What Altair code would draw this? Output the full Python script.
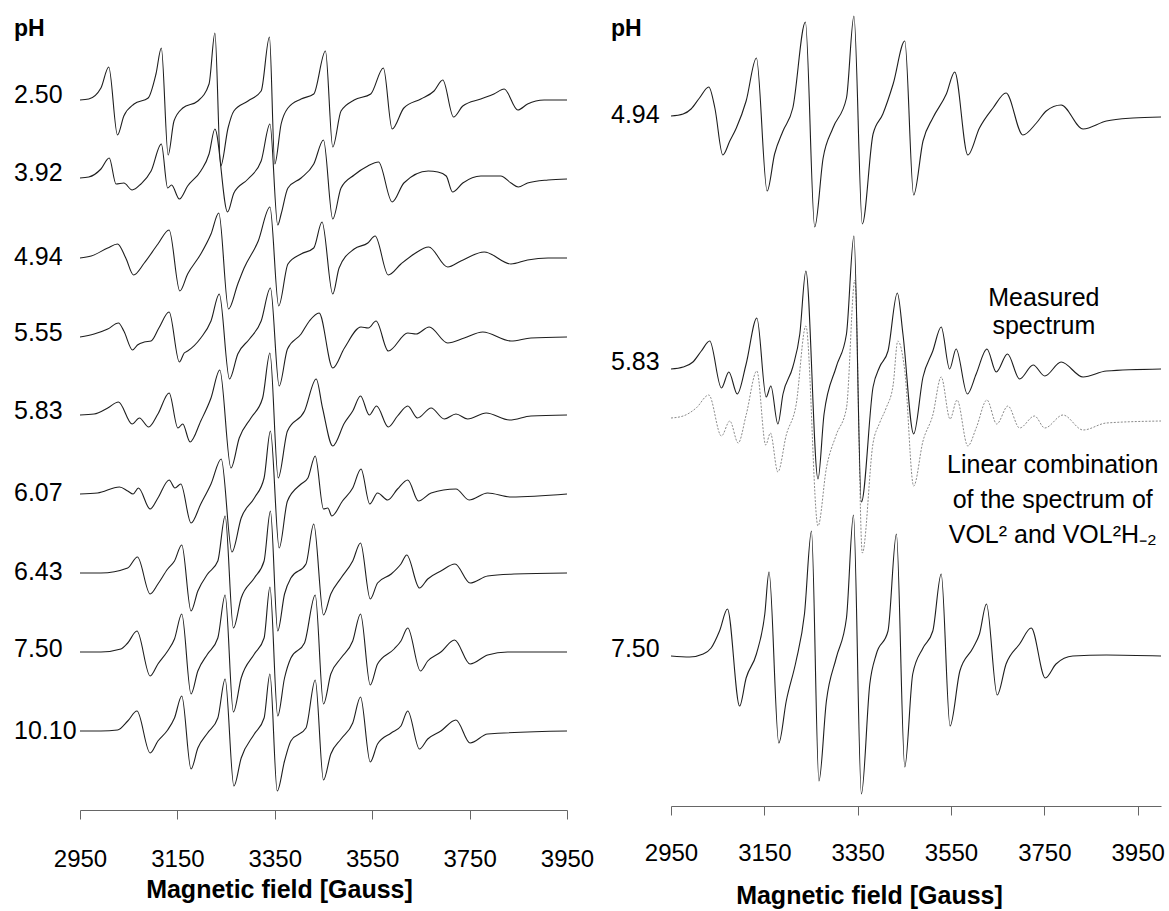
import altair as alt
import pandas as pd

FONT = "Liberation Sans"
FIELD_TICKS = [2950, 3150, 3350, 3550, 3750, 3950]

# ---------------- left panel: (field [Gauss], signal [a.u.]) ----------------
ph_2_50 = [(2950,0),(2968,1),(2993,12),(3009,33),(3027,-35),(3040,-16),(3061,-4),(3090,2),(3106,26),(3117,52),(3131,-55),(3143,-21),(3161,-8),(3192,-1),(3215,16),(3227,67),(3239,-66),(3254,-28),(3266,-11),(3295,-1),(3322,9),(3339,63),(3350,-64),(3363,-24),(3377,-8),(3404,1),(3430,6),(3454,49),(3469,-47),(3486,-11),(3513,0),(3547,6),(3573,32),(3591,-29),(3615,-8),(3650,1),(3677,9),(3695,20),(3717,-17),(3736,-6),(3773,1),(3800,6),(3821,11),(3849,-10),(3869,-4),(3903,0),(3950,0)]
ph_3_92 = [(2950,0),(2968,1),(2993,9),(3010,20),(3024,-6),(3040,-5),(3057,-12),(3075,-6),(3096,7),(3117,34),(3130,-10),(3138,-7),(3154,-21),(3171,-8),(3198,7),(3215,24),(3227,49),(3253,-34),(3266,-15),(3295,-1),(3322,17),(3340,54),(3356,-47),(3363,-36),(3377,-10),(3404,0),(3430,14),(3450,38),(3469,-41),(3486,-10),(3513,3),(3541,12),(3563,16),(3591,-24),(3615,-5),(3665,7),(3685,6),(3702,2),(3715,-14),(3736,-5),(3773,2),(3814,2),(3835,-5),(3850,-9),(3869,-5),(3911,-2),(3950,-1)]
ph_4_94 = [(2950,0),(2973,2),(3007,10),(3027,14),(3044,0),(3060,-17),(3082,-5),(3110,14),(3133,28),(3155,-33),(3171,-16),(3198,4),(3219,24),(3235,45),(3255,-51),(3274,-26),(3287,-10),(3316,17),(3340,51),(3358,-48),(3377,-6),(3404,4),(3430,10),(3447,36),(3469,-36),(3482,-10),(3513,9),(3541,15),(3556,22),(3583,-17),(3609,-6),(3636,4),(3666,11),(3705,-9),(3732,-3),(3780,6),(3835,-6),(3869,-2),(3911,0),(3950,0)]
ph_5_55 = [(2950,0),(2979,3),(3007,8),(3029,14),(3040,6),(3058,-13),(3068,-8),(3082,-5),(3096,-4),(3112,9),(3133,25),(3154,-25),(3164,-16),(3171,-14),(3198,-1),(3219,16),(3236,43),(3257,-42),(3274,-17),(3298,-2),(3322,16),(3341,49),(3359,-49),(3376,-12),(3404,3),(3421,16),(3441,24),(3469,-31),(3493,-11),(3527,10),(3542,9),(3558,16),(3583,-14),(3623,4),(3640,3),(3667,10),(3705,-6),(3739,-1),(3777,5),(3835,-4),(3876,-1),(3950,0)]
ph_5_83 = [(2950,0),(2979,1),(3007,7),(3029,13),(3057,-9),(3072,-3),(3091,-12),(3110,1),(3133,22),(3151,-13),(3161,-9),(3176,-27),(3198,-6),(3219,17),(3237,45),(3260,-53),(3277,-23),(3301,-3),(3325,17),(3340,62),(3357,-63),(3376,-16),(3411,4),(3435,36),(3448,7),(3469,-31),(3493,-8),(3510,4),(3526,19),(3544,0),(3559,9),(3583,-12),(3602,-1),(3623,9),(3643,-3),(3671,7),(3698,-4),(3722,1),(3746,-4),(3784,2),(3832,-5),(3876,-1),(3950,0)]
ph_6_07 = [(2950,0),(2986,1),(3031,7),(3048,3),(3059,0),(3070,6),(3094,-15),(3110,-4),(3133,14),(3145,6),(3157,10),(3178,-29),(3198,-10),(3219,10),(3240,35),(3262,-58),(3281,-24),(3308,-4),(3328,16),(3341,63),(3359,-54),(3376,-7),(3404,10),(3418,16),(3433,38),(3450,-15),(3459,-14),(3467,-22),(3489,-7),(3510,6),(3527,25),(3545,-10),(3561,1),(3582,-6),(3602,5),(3623,14),(3645,-7),(3671,1),(3722,5),(3749,-6),(3787,1),(3835,-3),(3950,0)]
ph_6_43 = [(2950,0),(2993,0),(3048,5),(3068,16),(3094,-21),(3110,-11),(3130,4),(3144,12),(3159,28),(3178,-38),(3192,-18),(3212,-1),(3233,12),(3248,57),(3265,-55),(3281,-25),(3308,-5),(3328,12),(3341,62),(3356,-58),(3370,-21),(3383,-5),(3414,9),(3430,49),(3450,-42),(3465,-21),(3486,-5),(3510,12),(3526,30),(3546,-26),(3561,-10),(3589,-1),(3609,9),(3621,18),(3647,-15),(3664,-6),(3691,2),(3720,9),(3751,-10),(3787,-3),(3842,-1),(3950,0)]
ph_7_50 = [(2950,0),(2993,0),(3034,3),(3048,9),(3067,21),(3094,-24),(3110,-12),(3130,1),(3144,13),(3159,38),(3178,-42),(3192,-19),(3212,-2),(3233,14),(3248,57),(3265,-60),(3281,-26),(3308,-2),(3328,14),(3340,65),(3356,-64),(3370,-26),(3383,-6),(3411,9),(3433,57),(3450,-52),(3465,-22),(3486,-6),(3510,11),(3526,38),(3546,-33),(3561,-12),(3595,3),(3609,11),(3623,24),(3649,-19),(3664,-9),(3691,0),(3719,12),(3751,-12),(3787,-3),(3828,0),(3950,0)]
ph_10_10 = [(2950,0),(2993,0),(3027,1),(3048,10),(3067,20),(3094,-22),(3110,-10),(3130,1),(3144,13),(3159,35),(3178,-38),(3192,-17),(3212,-2),(3233,13),(3248,52),(3266,-55),(3281,-27),(3308,-3),(3328,13),(3340,57),(3355,-60),(3370,-30),(3383,-10),(3414,3),(3433,51),(3450,-49),(3465,-23),(3486,-8),(3510,8),(3526,34),(3546,-31),(3561,-13),(3589,-2),(3609,5),(3623,20),(3647,-18),(3664,-8),(3691,0),(3722,11),(3751,-12),(3787,-3),(3950,0)]

LEFT_NAMES = ["2.50", "3.92", "4.94", "5.55", "5.83", "6.07", "6.43", "7.50", "10.10"]
LEFT_SPECTRA = [ph_2_50, ph_3_92, ph_4_94, ph_5_55, ph_5_83, ph_6_07, ph_6_43, ph_7_50, ph_10_10]
LEFT_OFFSETS = [710, 632, 552, 473, 395, 316, 237, 158, 79]
LEFT_LABEL_LEVELS = [715, 637, 553, 477, 399, 317, 238, 161, 79]

# ---------------- right panel ----------------
r_4_94 = [(2950,0),(2976,2),(2993,7),(3011,18),(3031,29),(3044,8),(3061,-39),(3076,-25),(3090,-12),(3111,15),(3133,58),(3156,-75),(3172,-38),(3190,-15),(3211,8),(3238,94),(3258,-111),(3276,-42),(3297,-12),(3326,18),(3342,100),(3360,-108),(3383,-18),(3404,2),(3426,32),(3451,75),(3470,-79),(3490,-25),(3511,-2),(3540,22),(3558,44),(3586,-39),(3611,-12),(3640,8),(3668,23),(3704,-19),(3733,-7),(3754,5),(3786,11),(3833,-13),(3883,-5),(3940,-2),(4000,-1)]
r_5_83 = [(2950,0),(2976,2),(2997,7),(3015,18),(3033,28),(3058,-19),(3074,-3),(3092,-25),(3111,5),(3134,51),(3154,-28),(3164,-17),(3179,-55),(3190,-25),(3211,2),(3226,35),(3239,98),(3265,-110),(3278,-45),(3304,2),(3326,35),(3342,133),(3358,-133),(3383,-18),(3397,2),(3415,18),(3435,76),(3447,35),(3470,-65),(3490,-8),(3511,18),(3529,42),(3547,0),(3561,20),(3585,-25),(3604,-5),(3627,20),(3647,-3),(3671,15),(3697,-10),(3726,4),(3751,-7),(3786,7),(3833,-8),(3883,-2),(4000,0)]
r_combination = [(2950,0),(2976,2),(3004,10),(3031,23),(3058,-18),(3076,-3),(3094,-25),(3111,3),(3134,47),(3153,-27),(3163,-15),(3179,-54),(3197,-17),(3218,13),(3239,92),(3265,-108),(3283,-50),(3304,-17),(3326,10),(3344,138),(3360,-135),(3383,-25),(3397,-5),(3411,10),(3426,33),(3436,77),(3451,47),(3470,-68),(3490,-23),(3511,3),(3529,41),(3548,-1),(3563,18),(3586,-28),(3604,-10),(3627,18),(3648,-6),(3672,12),(3697,-10),(3729,2),(3751,-10),(3790,3),(3833,-12),(3883,-5),(4000,-3)]
r_7_50 = [(2950,0),(2990,-1),(3019,2),(3036,8),(3054,25),(3071,47),(3097,-50),(3111,-22),(3133,2),(3151,42),(3160,84),(3181,-87),(3197,-45),(3218,-5),(3236,42),(3251,125),(3267,-125),(3283,-45),(3304,-2),(3326,38),(3341,141),(3358,-138),(3376,-28),(3390,2),(3415,25),(3433,122),(3451,-111),(3468,-18),(3490,8),(3511,25),(3529,82),(3548,-70),(3569,-15),(3597,8),(3611,22),(3626,52),(3649,-39),(3668,-8),(3697,12),(3722,28),(3752,-22),(3775,-8),(3811,0),(3883,1),(4000,0)]

RIGHT_NAMES = ["4.94", "5.83", "7.50"]
RIGHT_SPECTRA = [r_4_94, r_5_83, r_7_50]
RIGHT_OFFSETS = [690, 437, 150]
RIGHT_LABEL_LEVELS = [691, 444, 157]
COMBINATION_OFFSET = 388

ANNOT_TEXT = ["Measured", "spectrum", "Linear combination", "of the spectrum of", "VOL\u00b2 and VOL\u00b2H\u208b\u2082"]
ANNOT_FIELD = [3749, 3749, 3768, 3768, 3768]
ANNOT_LEVEL = [500, 472, 333, 298, 263]


def spectra_frame(names, spectra, offsets):
    rows = []
    for name, pts, off in zip(names, spectra, offsets):
        for i, (f, a) in enumerate(pts):
            rows.append({"spectrum": name, "field": f, "level": off + a, "idx": i})
    return pd.DataFrame(rows)


left_df = spectra_frame(LEFT_NAMES, LEFT_SPECTRA, LEFT_OFFSETS)
left_labels = pd.DataFrame({"field": 2950, "level": LEFT_LABEL_LEVELS, "label": LEFT_NAMES})
right_df = spectra_frame(RIGHT_NAMES, RIGHT_SPECTRA, RIGHT_OFFSETS)
comb_df = spectra_frame(["combination"], [r_combination], [COMBINATION_OFFSET])
right_labels = pd.DataFrame({"field": 2950, "level": RIGHT_LABEL_LEVELS, "label": RIGHT_NAMES})
annot_df = pd.DataFrame({"field": ANNOT_FIELD, "level": ANNOT_LEVEL, "label": ANNOT_TEXT})


def x_enc(domain, label_pad, title_pad, title_x):
    return alt.X(
        "field:Q",
        scale=alt.Scale(domain=domain, nice=False, zero=False),
        axis=alt.Axis(
            values=FIELD_TICKS, format="d", title="Magnetic field [Gauss]", grid=False,
            tickSize=9, tickColor="#666666", domainColor="#666666", labelPadding=label_pad,
            titlePadding=title_pad, labelFontSize=24, labelFont=FONT, labelColor="#000000",
            titleFontSize=25, titleFont=FONT, titleFontWeight="bold", titleColor="#000000",
            labelFlush=False, titleX=title_x, titleAlign="center",
        ),
    )


def y_enc(top):
    return alt.Y("level:Q", scale=alt.Scale(domain=[0, top], nice=False, zero=False), axis=None)


LINE_COLOR = "#1e1e1e"

xl = x_enc([2950, 3950], 28, 6, 199)
yl = y_enc(809)
left_lines = alt.Chart(left_df).mark_line(interpolate="monotone", color=LINE_COLOR, strokeWidth=1.1).encode(
    x=xl, y=yl, detail="spectrum:N", order="idx:Q")
left_text = alt.Chart(left_labels).mark_text(align="left", baseline="middle", dx=-66, fontSize=25,
                                             font=FONT, color="#000000").encode(x=xl, y=yl, text="label:N")
left_ph = alt.Chart(pd.DataFrame({"field": [2950], "level": [774], "label": ["pH"]})).mark_text(
    align="left", baseline="alphabetic", dx=-66, fontSize=23, fontWeight="bold", font=FONT,
    color="#000000").encode(x=xl, y=yl, text="label:N")
left = alt.layer(left_lines, left_text, left_ph).properties(width=487, height=809)

xr = x_enc([2950, 4000], 26, 18, 198)
yr = y_enc(805)
right_lines = alt.Chart(right_df).mark_line(interpolate="monotone", color=LINE_COLOR, strokeWidth=1.1).encode(
    x=xr, y=yr, detail="spectrum:N", order="idx:Q")
comb_line = alt.Chart(comb_df).mark_line(interpolate="monotone", color="#8a8a8a", strokeWidth=1,
                                         strokeDash=[2, 1.5]).encode(x=xr, y=yr, order="idx:Q")
right_text = alt.Chart(right_labels).mark_text(align="left", baseline="middle", dx=-60, fontSize=25,
                                               font=FONT, color="#000000").encode(x=xr, y=yr, text="label:N")
right_ph = alt.Chart(pd.DataFrame({"field": [2950], "level": [770], "label": ["pH"]})).mark_text(
    align="left", baseline="alphabetic", dx=-60, fontSize=23, fontWeight="bold", font=FONT,
    color="#000000").encode(x=xr, y=yr, text="label:N")
annot = alt.Chart(annot_df).mark_text(align="center", baseline="alphabetic", fontSize=25, font=FONT,
                                      color="#000000").encode(x=xr, y=yr, text="label:N")
right = alt.layer(comb_line, right_lines, right_text, right_ph, annot).properties(width=490, height=805)

chart = (
    alt.hconcat(left, right, spacing=15)
    .properties(padding={"left": 13, "top": 0, "right": 0, "bottom": 0}, background="white")
    .configure_view(stroke="transparent")
)

chart.save("out.html", embed_options={"renderer": "svg", "actions": False})
